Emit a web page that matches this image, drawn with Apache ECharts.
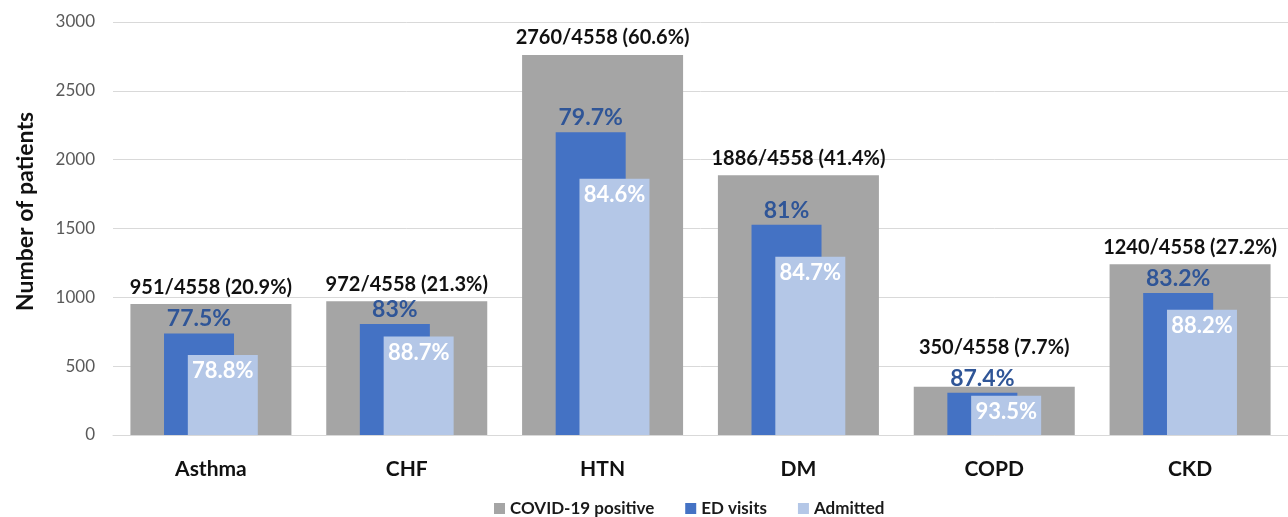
<!DOCTYPE html>
<html>
<head>
<meta charset="utf-8">
<script src="https://cdn.jsdelivr.net/npm/echarts@6/dist/echarts.min.js"></script>
<style>
  html, body { margin: 0; padding: 0; background: #ffffff; }
  #chart { width: 1288px; height: 517px; }
</style>
</head>
<body>
<div id="chart"></div>
<script>
// Chronic conditions among COVID-19 positive patients
const categories = ['Asthma', 'CHF', 'HTN', 'DM', 'COPD', 'CKD'];
const totalPatients = 4558;
const covidPositive = [951, 972, 2760, 1886, 350, 1240];
const edVisits = [737, 807, 2200, 1528, 306, 1032];
const admitted = [581, 716, 1861, 1294, 286, 910];
const edShareLabels = ['77.5%', '83%', '79.7%', '81%', '87.4%', '83.2%'];
const admittedShareLabels = ['78.8%', '88.7%', '84.6%', '84.7%', '93.5%', '88.2%'];
const yMin = 0, yMax = 3000, yStep = 500;

const FONT = 'Lato, "Open Sans", sans-serif';
const chart = echarts.init(document.getElementById('chart'), null, { renderer: 'canvas' });

// the short COPD bar keeps its count label clear of the ED share label
const positiveData = covidPositive.map((v, i) =>
  categories[i] === 'COPD' ? { value: v, label: { distance: 29 } } : v);

chart.setOption({
  backgroundColor: '#ffffff',
  animation: false,
  textStyle: { fontFamily: FONT },
  grid: { left: 113, right: 0, top: 22, bottom: 82, containLabel: false },
  legend: {
    left: 489, top: 495,
    icon: 'rect', itemWidth: 11, itemHeight: 11, itemGap: 31,
    textStyle: { fontFamily: FONT, fontSize: 17, fontWeight: 'bold', color: '#1a1a1a' },
    data: ['COVID-19 positive', 'ED visits', 'Admitted']
  },
  xAxis: [
    {
      type: 'category', data: categories,
      axisLine: { lineStyle: { color: '#d9d9d9' } },
      axisTick: { show: false },
      axisLabel: { margin: 24, fontSize: 21, fontWeight: 'bold', color: '#111111', fontFamily: FONT }
    },
    { type: 'category', data: categories, show: false }
  ],
  yAxis: {
    type: 'value', min: yMin, max: yMax, interval: yStep,
    name: 'Number of patients', nameLocation: 'middle', nameGap: 76,
    nameTextStyle: { fontSize: 23, fontWeight: 'bold', color: '#111111', fontFamily: FONT, padding: [0, 0, 0, 34] },
    axisLine: { show: false }, axisTick: { show: false },
    axisLabel: { margin: 18, fontSize: 17, color: '#595959', fontFamily: FONT, formatter: v => String(v) },
    splitLine: { lineStyle: { color: '#d9d9d9', width: 1 } }
  },
  series: [
    {
      name: 'COVID-19 positive', type: 'bar', xAxisIndex: 0,
      data: positiveData, barWidth: 161,
      itemStyle: { color: '#a5a5a5' },
      label: {
        show: true, position: 'top', distance: 7,
        fontSize: 20, fontWeight: 'bold', color: '#111111', fontFamily: FONT,
        formatter: p => p.value + '/' + totalPatients + ' (' + (p.value / totalPatients * 100).toFixed(1) + '%)'
      }
    },
    {
      name: 'ED visits', type: 'bar', xAxisIndex: 1,
      data: edVisits, barWidth: 70, barGap: '-66%',
      itemStyle: { color: '#4472c4' },
      label: {
        show: true, position: 'top', distance: 3,
        fontSize: 23, fontWeight: 'bold', color: '#2f5597', fontFamily: FONT,
        formatter: p => edShareLabels[p.dataIndex]
      }
    },
    {
      name: 'Admitted', type: 'bar', xAxisIndex: 1,
      data: admitted, barWidth: 70, barGap: '-66%',
      itemStyle: { color: '#b4c7e7' },
      label: {
        show: true, position: 'insideTop', distance: 5,
        fontSize: 22, fontWeight: 'bold', color: '#ffffff', fontFamily: FONT,
        formatter: p => admittedShareLabels[p.dataIndex]
      }
    }
  ]
});
</script>
</body>
</html>
